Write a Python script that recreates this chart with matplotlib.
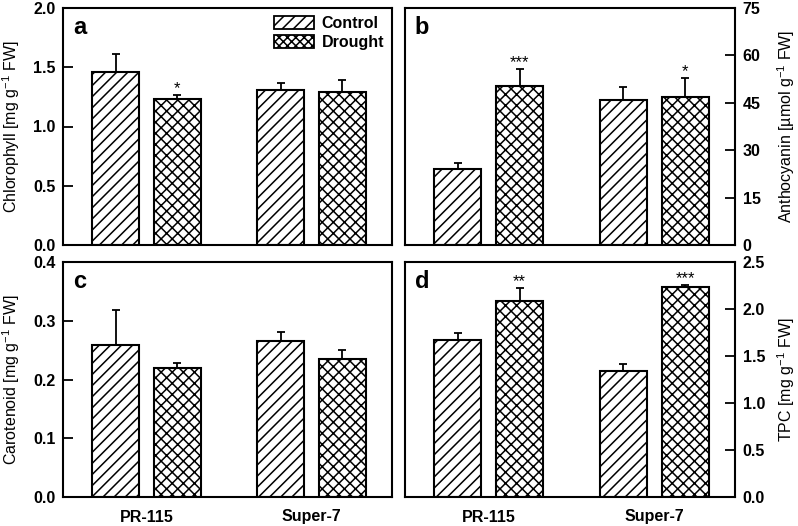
import matplotlib
matplotlib.use("Agg")
import matplotlib.pyplot as plt
import numpy as np
from matplotlib.patches import Patch

plt.rcParams['font.family'] = ['Liberation Sans', 'DejaVu Sans']
plt.rcParams['mathtext.fontset'] = 'custom'
plt.rcParams['mathtext.rm'] = 'Liberation Sans'
plt.rcParams['mathtext.it'] = 'Liberation Sans:italic'
plt.rcParams['mathtext.bf'] = 'Liberation Sans:bold'
plt.rcParams['hatch.linewidth'] = 1.1

cultivars = ["PR-115", "Super-7"]
series = ["Control", "Drought"]

chl_control = [1.46, 1.31]
chl_control_err = [0.15, 0.06]
chl_drought = [1.23, 1.29]
chl_drought_err = [0.04, 0.10]
chl_sig = ["*", ""]

anth_control = [24.2, 46.0]
anth_control_err = [1.8, 4.0]
anth_drought = [50.2, 46.7]
anth_drought_err = [5.5, 6.3]
anth_sig = ["***", "*"]

car_control = [0.259, 0.266]
car_control_err = [0.059, 0.015]
car_drought = [0.220, 0.235]
car_drought_err = [0.008, 0.015]
car_sig = ["", ""]

tpc_control = [1.67, 1.34]
tpc_control_err = [0.07, 0.07]
tpc_drought = [2.09, 2.23]
tpc_drought_err = [0.13, 0.03]
tpc_sig = ["**", "***"]

fig = plt.figure(figsize=(7.98, 5.26), dpi=100)

W1 = 329 / 798
W2 = 330 / 798
H1 = 237 / 526
H2 = 235 / 526
pos = {
    'a': [63 / 798, 1 - 245 / 526, W1, H1],
    'b': [405 / 798, 1 - 245 / 526, W2, H1],
    'c': [63 / 798, 1 - 497 / 526, W1, H2],
    'd': [405 / 798, 1 - 497 / 526, W2, H2],
}

x = np.arange(len(cultivars))
off = 0.187
bw = 0.285


def panel(key, ctrl, cerr, drt, derr, sig, yticks, ylab, fmt, right, xlabels):
    ax = fig.add_axes(pos[key])
    ax.bar(x - off, ctrl, bw, facecolor='white', edgecolor='black', hatch='///',
           linewidth=1.5, zorder=2)
    ax.bar(x + off, drt, bw, facecolor='white', edgecolor='black', hatch='xxx',
           linewidth=1.5, zorder=2)
    ax.errorbar(x - off, ctrl, yerr=[np.zeros(len(ctrl)), cerr], fmt='none',
                ecolor='black', elinewidth=1.3, capsize=2.6, capthick=1.3, zorder=1)
    ax.errorbar(x + off, drt, yerr=[np.zeros(len(drt)), derr], fmt='none',
                ecolor='black', elinewidth=1.3, capsize=2.6, capthick=1.3, zorder=1)
    ymax = yticks[-1]
    for xi, v, e, s in zip(x + off, drt, derr, sig):
        if s:
            ax.text(xi, v + e - ymax * 0.005, s, ha='center', va='bottom', fontsize=12)
    ax.set_xlim(-0.506, 1.488)
    ax.set_ylim(0, ymax)
    ax.set_yticks(yticks)
    ax.set_yticklabels([fmt.format(t) for t in yticks], fontweight='bold', fontsize=11.5)
    ax.set_xticks(x)
    if xlabels:
        ax.set_xticklabels(cultivars, fontweight='bold', fontsize=11.5)
    else:
        ax.set_xticklabels([])
    ax.tick_params(axis='x', length=0, pad=9)
    ax.tick_params(axis='y', direction='in', length=7, width=1.3, pad=5.5)
    for sp in ax.spines.values():
        sp.set_linewidth(1.5)
    w = ax.get_position().width * 798
    if right:
        ax.yaxis.tick_right()
        ax.yaxis.set_label_position('right')
        ax.set_ylabel(ylab, fontsize=11.5)
        ax.yaxis.set_label_coords(1 + 40 / w, 0.5)
    else:
        ax.set_ylabel(ylab, fontsize=11.5)
        ax.yaxis.set_label_coords(-41 / w, 0.5)
    ax.text(0.03, 0.965, key, transform=ax.transAxes, fontsize=17, fontweight='bold',
            va='top', ha='left')
    return ax


axa = panel('a', chl_control, chl_control_err, chl_drought, chl_drought_err, chl_sig,
            [0, 0.5, 1.0, 1.5, 2.0], r'Chlorophyll [mg g$^{-1}$ FW]', '{:.1f}', False, False)
axb = panel('b', anth_control, anth_control_err, anth_drought, anth_drought_err, anth_sig,
            [0, 15, 30, 45, 60, 75], r'Anthocyanin [µmol g$^{-1}$ FW]', '{:.0f}', True, False)
axc = panel('c', car_control, car_control_err, car_drought, car_drought_err, car_sig,
            [0, 0.1, 0.2, 0.3, 0.4], r'Carotenoid [mg g$^{-1}$ FW]', '{:.1f}', False, True)
axd = panel('d', tpc_control, tpc_control_err, tpc_drought, tpc_drought_err, tpc_sig,
            [0, 0.5, 1.0, 1.5, 2.0, 2.5], r'TPC [mg g$^{-1}$ FW]', '{:.1f}', True, True)

handles = [Patch(facecolor='white', edgecolor='black', hatch='///', linewidth=1.3),
           Patch(facecolor='white', edgecolor='black', hatch='xxxx', linewidth=1.3)]
axa.legend(handles, series, loc='upper right', bbox_to_anchor=(1.0, 1.0), frameon=False,
           prop={'weight': 'bold', 'size': 11.5}, handlelength=2.5, handleheight=0.9,
           handletextpad=0.5, labelspacing=0.25, borderaxespad=0.1)

fig.savefig('out.png', dpi=100)
